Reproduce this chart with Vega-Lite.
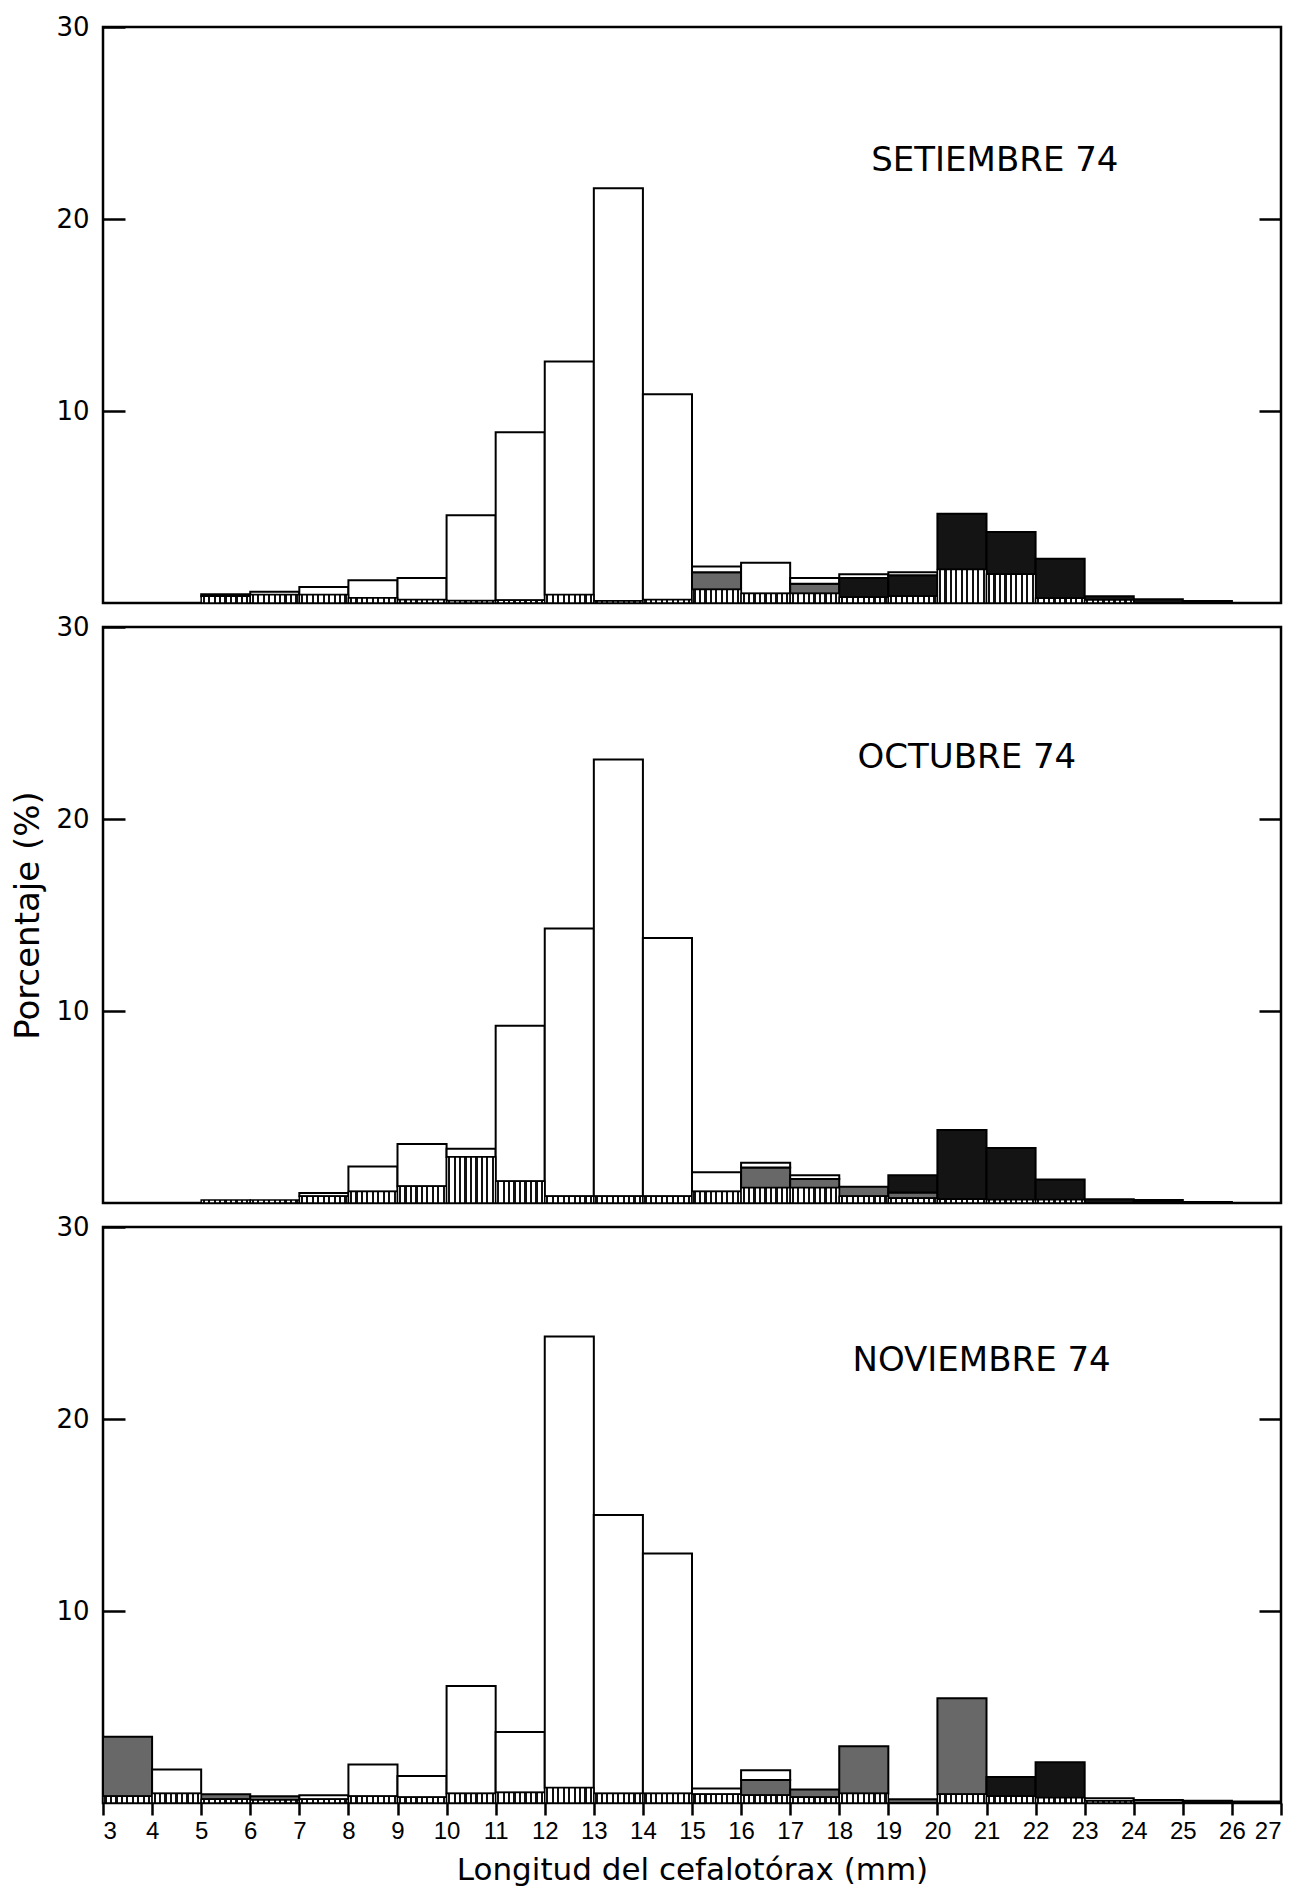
{
  "$schema": "https://vega.github.io/schema/vega-lite/v6.json",
  "background": "white",
  "padding": {"left": 10, "top": 12, "right": 10, "bottom": 0},
  "spacing": 24,
  "bounds": "flush",
  "datasets": {
    "sep": [
      {"lo": 5, "hi": 6, "tipo": "rayado", "pct": 0.35}, {"lo": 5, "hi": 6, "tipo": "blanco", "pct": 0.1},
      {"lo": 6, "hi": 7, "tipo": "rayado", "pct": 0.43}, {"lo": 6, "hi": 7, "tipo": "blanco", "pct": 0.15},
      {"lo": 7, "hi": 8, "tipo": "rayado", "pct": 0.43}, {"lo": 7, "hi": 8, "tipo": "blanco", "pct": 0.4},
      {"lo": 8, "hi": 9, "tipo": "rayado", "pct": 0.26}, {"lo": 8, "hi": 9, "tipo": "blanco", "pct": 0.92},
      {"lo": 9, "hi": 10, "tipo": "rayado", "pct": 0.17}, {"lo": 9, "hi": 10, "tipo": "blanco", "pct": 1.13},
      {"lo": 10, "hi": 11, "tipo": "rayado", "pct": 0.12}, {"lo": 10, "hi": 11, "tipo": "blanco", "pct": 4.45},
      {"lo": 11, "hi": 12, "tipo": "rayado", "pct": 0.14}, {"lo": 11, "hi": 12, "tipo": "blanco", "pct": 8.75},
      {"lo": 12, "hi": 13, "tipo": "rayado", "pct": 0.43}, {"lo": 12, "hi": 13, "tipo": "blanco", "pct": 12.15},
      {"lo": 13, "hi": 14, "tipo": "rayado", "pct": 0.1}, {"lo": 13, "hi": 14, "tipo": "blanco", "pct": 21.5},
      {"lo": 14, "hi": 15, "tipo": "rayado", "pct": 0.17}, {"lo": 14, "hi": 15, "tipo": "blanco", "pct": 10.7},
      {"lo": 15, "hi": 16, "tipo": "rayado", "pct": 0.7}, {"lo": 15, "hi": 16, "tipo": "punteado", "pct": 0.9}, {"lo": 15, "hi": 16, "tipo": "blanco", "pct": 0.3},
      {"lo": 16, "hi": 17, "tipo": "rayado", "pct": 0.5}, {"lo": 16, "hi": 17, "tipo": "blanco", "pct": 1.6},
      {"lo": 17, "hi": 18, "tipo": "rayado", "pct": 0.5}, {"lo": 17, "hi": 18, "tipo": "punteado", "pct": 0.5}, {"lo": 17, "hi": 18, "tipo": "blanco", "pct": 0.3},
      {"lo": 18, "hi": 19, "tipo": "rayado", "pct": 0.3}, {"lo": 18, "hi": 19, "tipo": "negro", "pct": 1.0}, {"lo": 18, "hi": 19, "tipo": "blanco", "pct": 0.2},
      {"lo": 19, "hi": 20, "tipo": "rayado", "pct": 0.35}, {"lo": 19, "hi": 20, "tipo": "negro", "pct": 1.1}, {"lo": 19, "hi": 20, "tipo": "blanco", "pct": 0.15},
      {"lo": 20, "hi": 21, "tipo": "rayado", "pct": 1.75}, {"lo": 20, "hi": 21, "tipo": "negro", "pct": 2.9},
      {"lo": 21, "hi": 22, "tipo": "rayado", "pct": 1.5}, {"lo": 21, "hi": 22, "tipo": "negro", "pct": 2.2},
      {"lo": 22, "hi": 23, "tipo": "rayado", "pct": 0.25}, {"lo": 22, "hi": 23, "tipo": "negro", "pct": 2.05},
      {"lo": 23, "hi": 24, "tipo": "rayado", "pct": 0.15}, {"lo": 23, "hi": 24, "tipo": "negro", "pct": 0.2},
      {"lo": 24, "hi": 25, "tipo": "negro", "pct": 0.2},
      {"lo": 25, "hi": 26, "tipo": "negro", "pct": 0.1}
    ],
    "oct": [
      {"lo": 5, "hi": 6, "tipo": "rayado", "pct": 0.15},
      {"lo": 6, "hi": 7, "tipo": "rayado", "pct": 0.15},
      {"lo": 7, "hi": 8, "tipo": "rayado", "pct": 0.35}, {"lo": 7, "hi": 8, "tipo": "blanco", "pct": 0.17},
      {"lo": 8, "hi": 9, "tipo": "rayado", "pct": 0.6}, {"lo": 8, "hi": 9, "tipo": "blanco", "pct": 1.3},
      {"lo": 9, "hi": 10, "tipo": "rayado", "pct": 0.87}, {"lo": 9, "hi": 10, "tipo": "blanco", "pct": 2.2},
      {"lo": 10, "hi": 11, "tipo": "rayado", "pct": 2.4}, {"lo": 10, "hi": 11, "tipo": "blanco", "pct": 0.42},
      {"lo": 11, "hi": 12, "tipo": "rayado", "pct": 1.13}, {"lo": 11, "hi": 12, "tipo": "blanco", "pct": 8.1},
      {"lo": 12, "hi": 13, "tipo": "rayado", "pct": 0.35}, {"lo": 12, "hi": 13, "tipo": "blanco", "pct": 13.95},
      {"lo": 13, "hi": 14, "tipo": "rayado", "pct": 0.35}, {"lo": 13, "hi": 14, "tipo": "blanco", "pct": 22.75},
      {"lo": 14, "hi": 15, "tipo": "rayado", "pct": 0.35}, {"lo": 14, "hi": 15, "tipo": "blanco", "pct": 13.45},
      {"lo": 15, "hi": 16, "tipo": "rayado", "pct": 0.6}, {"lo": 15, "hi": 16, "tipo": "blanco", "pct": 1.0},
      {"lo": 16, "hi": 17, "tipo": "rayado", "pct": 0.8}, {"lo": 16, "hi": 17, "tipo": "punteado", "pct": 1.05}, {"lo": 16, "hi": 17, "tipo": "blanco", "pct": 0.25},
      {"lo": 17, "hi": 18, "tipo": "rayado", "pct": 0.8}, {"lo": 17, "hi": 18, "tipo": "punteado", "pct": 0.45}, {"lo": 17, "hi": 18, "tipo": "blanco", "pct": 0.2},
      {"lo": 18, "hi": 19, "tipo": "rayado", "pct": 0.35}, {"lo": 18, "hi": 19, "tipo": "punteado", "pct": 0.5},
      {"lo": 19, "hi": 20, "tipo": "rayado", "pct": 0.25}, {"lo": 19, "hi": 20, "tipo": "punteado", "pct": 0.3}, {"lo": 19, "hi": 20, "tipo": "negro", "pct": 0.9},
      {"lo": 20, "hi": 21, "tipo": "rayado", "pct": 0.2}, {"lo": 20, "hi": 21, "tipo": "negro", "pct": 3.6},
      {"lo": 21, "hi": 22, "tipo": "rayado", "pct": 0.17}, {"lo": 21, "hi": 22, "tipo": "negro", "pct": 2.7},
      {"lo": 22, "hi": 23, "tipo": "rayado", "pct": 0.17}, {"lo": 22, "hi": 23, "tipo": "negro", "pct": 1.05},
      {"lo": 23, "hi": 24, "tipo": "negro", "pct": 0.2},
      {"lo": 24, "hi": 25, "tipo": "rayado", "pct": 0.05}, {"lo": 24, "hi": 25, "tipo": "negro", "pct": 0.1},
      {"lo": 25, "hi": 26, "tipo": "negro", "pct": 0.05}
    ],
    "nov": [
      {"lo": 3, "hi": 4, "tipo": "rayado", "pct": 0.35}, {"lo": 3, "hi": 4, "tipo": "punteado", "pct": 3.1},
      {"lo": 4, "hi": 5, "tipo": "rayado", "pct": 0.5}, {"lo": 4, "hi": 5, "tipo": "blanco", "pct": 1.25},
      {"lo": 5, "hi": 6, "tipo": "rayado", "pct": 0.2}, {"lo": 5, "hi": 6, "tipo": "punteado", "pct": 0.25},
      {"lo": 6, "hi": 7, "tipo": "rayado", "pct": 0.15}, {"lo": 6, "hi": 7, "tipo": "punteado", "pct": 0.2},
      {"lo": 7, "hi": 8, "tipo": "rayado", "pct": 0.2}, {"lo": 7, "hi": 8, "tipo": "blanco", "pct": 0.2},
      {"lo": 8, "hi": 9, "tipo": "rayado", "pct": 0.35}, {"lo": 8, "hi": 9, "tipo": "blanco", "pct": 1.65},
      {"lo": 9, "hi": 10, "tipo": "rayado", "pct": 0.3}, {"lo": 9, "hi": 10, "tipo": "blanco", "pct": 1.1},
      {"lo": 10, "hi": 11, "tipo": "rayado", "pct": 0.5}, {"lo": 10, "hi": 11, "tipo": "blanco", "pct": 5.6},
      {"lo": 11, "hi": 12, "tipo": "rayado", "pct": 0.55}, {"lo": 11, "hi": 12, "tipo": "blanco", "pct": 3.15},
      {"lo": 12, "hi": 13, "tipo": "rayado", "pct": 0.8}, {"lo": 12, "hi": 13, "tipo": "blanco", "pct": 23.5},
      {"lo": 13, "hi": 14, "tipo": "rayado", "pct": 0.5}, {"lo": 13, "hi": 14, "tipo": "blanco", "pct": 14.5},
      {"lo": 14, "hi": 15, "tipo": "rayado", "pct": 0.5}, {"lo": 14, "hi": 15, "tipo": "blanco", "pct": 12.5},
      {"lo": 15, "hi": 16, "tipo": "rayado", "pct": 0.45}, {"lo": 15, "hi": 16, "tipo": "blanco", "pct": 0.3},
      {"lo": 16, "hi": 17, "tipo": "rayado", "pct": 0.4}, {"lo": 16, "hi": 17, "tipo": "punteado", "pct": 0.8}, {"lo": 16, "hi": 17, "tipo": "blanco", "pct": 0.5},
      {"lo": 17, "hi": 18, "tipo": "rayado", "pct": 0.3}, {"lo": 17, "hi": 18, "tipo": "punteado", "pct": 0.4},
      {"lo": 18, "hi": 19, "tipo": "rayado", "pct": 0.5}, {"lo": 18, "hi": 19, "tipo": "punteado", "pct": 2.45},
      {"lo": 19, "hi": 20, "tipo": "punteado", "pct": 0.2},
      {"lo": 20, "hi": 21, "tipo": "rayado", "pct": 0.45}, {"lo": 20, "hi": 21, "tipo": "punteado", "pct": 5.0},
      {"lo": 21, "hi": 22, "tipo": "rayado", "pct": 0.35}, {"lo": 21, "hi": 22, "tipo": "negro", "pct": 1.0},
      {"lo": 22, "hi": 23, "tipo": "rayado", "pct": 0.27}, {"lo": 22, "hi": 23, "tipo": "negro", "pct": 1.85},
      {"lo": 23, "hi": 24, "tipo": "rayado", "pct": 0.1}, {"lo": 23, "hi": 24, "tipo": "blanco", "pct": 0.15},
      {"lo": 24, "hi": 25, "tipo": "punteado", "pct": 0.15},
      {"lo": 25, "hi": 26, "tipo": "negro", "pct": 0.12},
      {"lo": 26, "hi": 27, "tipo": "blanco", "pct": 0.08}
    ]
  },
  "vconcat": [
    {
      "width": 1178, "height": 576,
      "data": {"name": "sep"},
      "layer": [
        {
          "transform": [{"stack": "pct", "groupby": ["lo"], "sort": [{"field": "tipo", "order": "descending"}], "as": ["y0", "y1"]}, {"filter": "datum.tipo !== 'rayado'"}],
          "mark": {"type": "bar", "stroke": "black", "strokeWidth": 2},
          "encoding": {
            "x": {"field": "lo", "type": "quantitative", "scale": {"domain": [3, 27], "nice": false, "zero": false}, "axis": null},
            "x2": {"field": "hi"},
            "y": {"field": "y0", "type": "quantitative", "scale": {"domain": [0, 30], "nice": false}, "axis": {"values": [10, 20, 30], "tickSize": -22, "labelPadding": 36, "title": null}},
            "y2": {"field": "y1"},
            "fill": {"field": "tipo", "type": "nominal", "scale": {"domain": ["blanco", "negro", "punteado"], "range": ["#ffffff", "#141414", "#686868"]}, "legend": null}
          }
        },
        {
          "transform": [{"stack": "pct", "groupby": ["lo"], "sort": [{"field": "tipo", "order": "descending"}], "as": ["y0", "y1"]}, {"filter": "datum.tipo === 'rayado'"}],
          "mark": {"type": "bar", "stroke": "black", "strokeWidth": 1.5, "fill": {"gradient": "linear", "x1": 0, "y1": 0, "x2": 1, "y2": 0, "stops": [{"offset": 0, "color": "white"}, {"offset": 0.03, "color": "white"}, {"offset": 0.03, "color": "#111"}, {"offset": 0.075, "color": "#111"}, {"offset": 0.075, "color": "white"}, {"offset": 0.141, "color": "white"}, {"offset": 0.141, "color": "#111"}, {"offset": 0.186, "color": "#111"}, {"offset": 0.186, "color": "white"}, {"offset": 0.252, "color": "white"}, {"offset": 0.252, "color": "#111"}, {"offset": 0.297, "color": "#111"}, {"offset": 0.297, "color": "white"}, {"offset": 0.363, "color": "white"}, {"offset": 0.363, "color": "#111"}, {"offset": 0.408, "color": "#111"}, {"offset": 0.408, "color": "white"}, {"offset": 0.474, "color": "white"}, {"offset": 0.474, "color": "#111"}, {"offset": 0.519, "color": "#111"}, {"offset": 0.519, "color": "white"}, {"offset": 0.586, "color": "white"}, {"offset": 0.586, "color": "#111"}, {"offset": 0.631, "color": "#111"}, {"offset": 0.631, "color": "white"}, {"offset": 0.697, "color": "white"}, {"offset": 0.697, "color": "#111"}, {"offset": 0.742, "color": "#111"}, {"offset": 0.742, "color": "white"}, {"offset": 0.808, "color": "white"}, {"offset": 0.808, "color": "#111"}, {"offset": 0.853, "color": "#111"}, {"offset": 0.853, "color": "white"}, {"offset": 0.919, "color": "white"}, {"offset": 0.919, "color": "#111"}, {"offset": 0.964, "color": "#111"}, {"offset": 0.964, "color": "white"}, {"offset": 1, "color": "white"}]}},
          "encoding": {
            "x": {"field": "lo", "type": "quantitative", "axis": null},
            "x2": {"field": "hi"},
            "y": {"field": "y0", "type": "quantitative", "axis": null},
            "y2": {"field": "y1"}
          }
        },
        {
          "data": {"values": [{"x": 21.17, "y": 23.0, "t": "SETIEMBRE 74"}]},
          "mark": {"type": "text", "fontSize": 34, "font": "DejaVu Sans", "align": "center", "baseline": "middle", "color": "black"},
          "encoding": {
            "x": {"field": "x", "type": "quantitative", "axis": null},
            "y": {"field": "y", "type": "quantitative", "axis": {"orient": "right", "values": [10, 20], "labels": false, "tickSize": -22, "title": null}},
            "text": {"field": "t"}
          }
        }
      ],
      "resolve": {"axis": {"y": "independent"}}
    },
    {
      "width": 1178, "height": 576,
      "data": {"name": "oct"},
      "layer": [
        {
          "transform": [{"stack": "pct", "groupby": ["lo"], "sort": [{"field": "tipo", "order": "descending"}], "as": ["y0", "y1"]}, {"filter": "datum.tipo !== 'rayado'"}],
          "mark": {"type": "bar", "stroke": "black", "strokeWidth": 2},
          "encoding": {
            "x": {"field": "lo", "type": "quantitative", "scale": {"domain": [3, 27], "nice": false, "zero": false}, "axis": null},
            "x2": {"field": "hi"},
            "y": {"field": "y0", "type": "quantitative", "scale": {"domain": [0, 30], "nice": false}, "axis": {"values": [10, 20, 30], "tickSize": -22, "labelPadding": 36, "title": "Porcentaje (%)", "titleFontSize": 34, "titlePadding": 10}},
            "y2": {"field": "y1"},
            "fill": {"field": "tipo", "type": "nominal", "scale": {"domain": ["blanco", "negro", "punteado"], "range": ["#ffffff", "#141414", "#686868"]}, "legend": null}
          }
        },
        {
          "transform": [{"stack": "pct", "groupby": ["lo"], "sort": [{"field": "tipo", "order": "descending"}], "as": ["y0", "y1"]}, {"filter": "datum.tipo === 'rayado'"}],
          "mark": {"type": "bar", "stroke": "black", "strokeWidth": 1.5, "fill": {"gradient": "linear", "x1": 0, "y1": 0, "x2": 1, "y2": 0, "stops": [{"offset": 0, "color": "white"}, {"offset": 0.03, "color": "white"}, {"offset": 0.03, "color": "#111"}, {"offset": 0.075, "color": "#111"}, {"offset": 0.075, "color": "white"}, {"offset": 0.141, "color": "white"}, {"offset": 0.141, "color": "#111"}, {"offset": 0.186, "color": "#111"}, {"offset": 0.186, "color": "white"}, {"offset": 0.252, "color": "white"}, {"offset": 0.252, "color": "#111"}, {"offset": 0.297, "color": "#111"}, {"offset": 0.297, "color": "white"}, {"offset": 0.363, "color": "white"}, {"offset": 0.363, "color": "#111"}, {"offset": 0.408, "color": "#111"}, {"offset": 0.408, "color": "white"}, {"offset": 0.474, "color": "white"}, {"offset": 0.474, "color": "#111"}, {"offset": 0.519, "color": "#111"}, {"offset": 0.519, "color": "white"}, {"offset": 0.586, "color": "white"}, {"offset": 0.586, "color": "#111"}, {"offset": 0.631, "color": "#111"}, {"offset": 0.631, "color": "white"}, {"offset": 0.697, "color": "white"}, {"offset": 0.697, "color": "#111"}, {"offset": 0.742, "color": "#111"}, {"offset": 0.742, "color": "white"}, {"offset": 0.808, "color": "white"}, {"offset": 0.808, "color": "#111"}, {"offset": 0.853, "color": "#111"}, {"offset": 0.853, "color": "white"}, {"offset": 0.919, "color": "white"}, {"offset": 0.919, "color": "#111"}, {"offset": 0.964, "color": "#111"}, {"offset": 0.964, "color": "white"}, {"offset": 1, "color": "white"}]}},
          "encoding": {
            "x": {"field": "lo", "type": "quantitative", "axis": null},
            "x2": {"field": "hi"},
            "y": {"field": "y0", "type": "quantitative", "axis": null},
            "y2": {"field": "y1"}
          }
        },
        {
          "data": {"values": [{"x": 20.6, "y": 23.2, "t": "OCTUBRE 74"}]},
          "mark": {"type": "text", "fontSize": 34, "font": "DejaVu Sans", "align": "center", "baseline": "middle", "color": "black"},
          "encoding": {
            "x": {"field": "x", "type": "quantitative", "axis": null},
            "y": {"field": "y", "type": "quantitative", "axis": {"orient": "right", "values": [10, 20], "labels": false, "tickSize": -22, "title": null}},
            "text": {"field": "t"}
          }
        }
      ],
      "resolve": {"axis": {"y": "independent"}}
    },
    {
      "width": 1178, "height": 576,
      "data": {"name": "nov"},
      "layer": [
        {
          "transform": [{"stack": "pct", "groupby": ["lo"], "sort": [{"field": "tipo", "order": "descending"}], "as": ["y0", "y1"]}, {"filter": "datum.tipo !== 'rayado'"}],
          "mark": {"type": "bar", "stroke": "black", "strokeWidth": 2},
          "encoding": {
            "x": {"field": "lo", "type": "quantitative", "scale": {"domain": [3, 27], "nice": false, "zero": false}, "axis": {"values": [3, 4, 5, 6, 7, 8, 9, 10, 11, 12, 13, 14, 15, 16, 17, 18, 19, 20, 21, 22, 23, 24, 25, 26, 27], "tickSize": 12, "labelPadding": 4, "labelFontSize": 24, "labelFont": "Liberation Sans", "format": "d", "title": "Longitud del cefalotórax (mm)", "titleFontSize": 31, "titlePadding": 12}},
            "x2": {"field": "hi"},
            "y": {"field": "y0", "type": "quantitative", "scale": {"domain": [0, 30], "nice": false}, "axis": {"values": [10, 20, 30], "tickSize": -22, "labelPadding": 36, "title": null}},
            "y2": {"field": "y1"},
            "fill": {"field": "tipo", "type": "nominal", "scale": {"domain": ["blanco", "negro", "punteado"], "range": ["#ffffff", "#141414", "#686868"]}, "legend": null}
          }
        },
        {
          "transform": [{"stack": "pct", "groupby": ["lo"], "sort": [{"field": "tipo", "order": "descending"}], "as": ["y0", "y1"]}, {"filter": "datum.tipo === 'rayado'"}],
          "mark": {"type": "bar", "stroke": "black", "strokeWidth": 1.5, "fill": {"gradient": "linear", "x1": 0, "y1": 0, "x2": 1, "y2": 0, "stops": [{"offset": 0, "color": "white"}, {"offset": 0.03, "color": "white"}, {"offset": 0.03, "color": "#111"}, {"offset": 0.075, "color": "#111"}, {"offset": 0.075, "color": "white"}, {"offset": 0.141, "color": "white"}, {"offset": 0.141, "color": "#111"}, {"offset": 0.186, "color": "#111"}, {"offset": 0.186, "color": "white"}, {"offset": 0.252, "color": "white"}, {"offset": 0.252, "color": "#111"}, {"offset": 0.297, "color": "#111"}, {"offset": 0.297, "color": "white"}, {"offset": 0.363, "color": "white"}, {"offset": 0.363, "color": "#111"}, {"offset": 0.408, "color": "#111"}, {"offset": 0.408, "color": "white"}, {"offset": 0.474, "color": "white"}, {"offset": 0.474, "color": "#111"}, {"offset": 0.519, "color": "#111"}, {"offset": 0.519, "color": "white"}, {"offset": 0.586, "color": "white"}, {"offset": 0.586, "color": "#111"}, {"offset": 0.631, "color": "#111"}, {"offset": 0.631, "color": "white"}, {"offset": 0.697, "color": "white"}, {"offset": 0.697, "color": "#111"}, {"offset": 0.742, "color": "#111"}, {"offset": 0.742, "color": "white"}, {"offset": 0.808, "color": "white"}, {"offset": 0.808, "color": "#111"}, {"offset": 0.853, "color": "#111"}, {"offset": 0.853, "color": "white"}, {"offset": 0.919, "color": "white"}, {"offset": 0.919, "color": "#111"}, {"offset": 0.964, "color": "#111"}, {"offset": 0.964, "color": "white"}, {"offset": 1, "color": "white"}]}},
          "encoding": {
            "x": {"field": "lo", "type": "quantitative", "axis": {"values": [3, 4, 5, 6, 7, 8, 9, 10, 11, 12, 13, 14, 15, 16, 17, 18, 19, 20, 21, 22, 23, 24, 25, 26, 27], "tickSize": 12, "labelPadding": 4, "labelFontSize": 24, "labelFont": "Liberation Sans", "format": "d", "title": "Longitud del cefalotórax (mm)", "titleFontSize": 31, "titlePadding": 12}},
            "x2": {"field": "hi"},
            "y": {"field": "y0", "type": "quantitative", "axis": null},
            "y2": {"field": "y1"}
          }
        },
        {
          "data": {"values": [{"x": 20.9, "y": 23.0, "t": "NOVIEMBRE 74"}]},
          "mark": {"type": "text", "fontSize": 34, "font": "DejaVu Sans", "align": "center", "baseline": "middle", "color": "black"},
          "encoding": {
            "x": {"field": "x", "type": "quantitative", "axis": {"values": [3, 4, 5, 6, 7, 8, 9, 10, 11, 12, 13, 14, 15, 16, 17, 18, 19, 20, 21, 22, 23, 24, 25, 26, 27], "tickSize": 12, "labelPadding": 4, "labelFontSize": 24, "labelFont": "Liberation Sans", "format": "d", "title": "Longitud del cefalotórax (mm)", "titleFontSize": 31, "titlePadding": 12}},
            "y": {"field": "y", "type": "quantitative", "axis": {"orient": "right", "values": [10, 20], "labels": false, "tickSize": -22, "title": null}},
            "text": {"field": "t"}
          }
        }
      ],
      "resolve": {"axis": {"y": "independent"}}
    }
  ],
  "config": {
    "view": {"stroke": "black", "strokeWidth": 2.5},
    "axis": {"domain": false, "grid": false, "tickColor": "black", "tickWidth": 2.5, "labelColor": "black", "labelFont": "DejaVu Sans", "labelFontSize": 26, "titleFont": "DejaVu Sans", "titleFontWeight": "normal", "titleColor": "black"}
  }
}
